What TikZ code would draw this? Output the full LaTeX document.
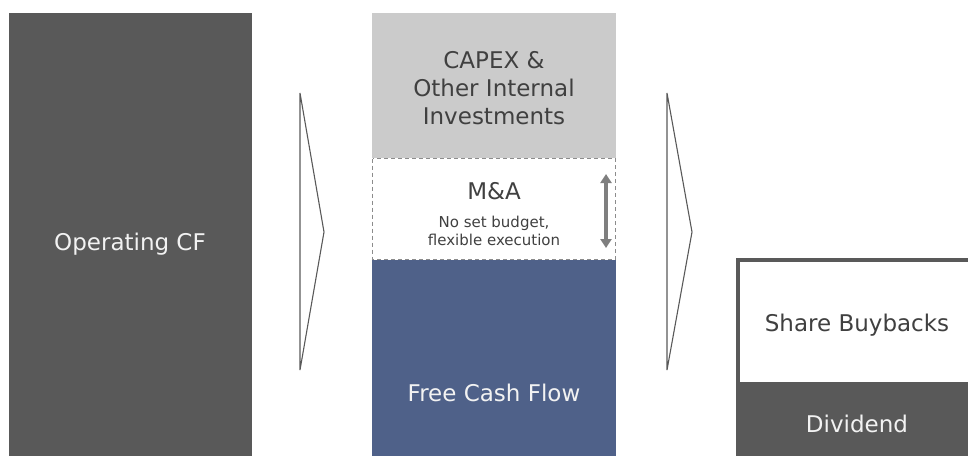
\documentclass[tikz,border=0pt]{standalone}
\usepackage{fontspec}
\setmainfont{DejaVu Sans}
\usetikzlibrary{arrows.meta}
\definecolor{darkgr}{HTML}{595959}
\definecolor{lightgr}{HTML}{CBCBCB}
\definecolor{bluebox}{HTML}{4F6189}
\definecolor{txtdark}{HTML}{404040}
\definecolor{txtlight}{HTML}{F2F2F2}
\definecolor{dashgr}{HTML}{8C8C8C}
\definecolor{arrgr}{HTML}{7F7F7F}
\tikzset{
  bigtext/.style={font=\fontsize{23}{28}\selectfont, align=center, inner sep=0pt},
  smalltext/.style={font=\fontsize{15}{18}\selectfont, align=center, inner sep=0pt},
  chev/.style={draw=darkgr, line width=1.1pt, line join=miter},
}
\begin{document}
\begin{tikzpicture}[x=1pt,y=-1pt]
\useasboundingbox (0,0) rectangle (968,456);
% left box
\fill[darkgr] (9,13) rectangle (252,456);
\node[bigtext, text=txtlight] (opcf) at (130,244) {Operating CF};
% chevron 1
\draw[chev] (300,93) -- (324,232) -- (300,370) -- cycle;
% middle column
\fill[lightgr] (372,13) rectangle (616,158);
\node[bigtext, text=txtdark] (capex) at (494,88) {CAPEX \&\\Other Internal\\Investments};
\draw[dashgr, line width=1pt, dash pattern=on 4pt off 3pt] (372.5,158.5) rectangle (615.5,259);
\node[bigtext, text=txtdark] (ma) at (494,191) {M\&A};
\node[smalltext, text=txtdark] (mab) at (494,231) {No set budget,\\flexible execution};
\coordinate (arrT) at (606,174);
\coordinate (arrB) at (606,248);
\draw[arrgr, line width=3.2pt, {Triangle[length=9pt,width=11pt]}-{Triangle[length=9pt,width=11pt]}] (arrT) -- (arrB);
\fill[bluebox] (372,260) rectangle (616,456);
\node[bigtext, text=txtlight] (fcf) at (494,393) {Free Cash Flow};
% chevron 2
\draw[chev] (667,93) -- (692,232) -- (667,370) -- cycle;
% right box
\fill[darkgr] (736,258) rectangle (968,456);
\fill[white] (740,262) rectangle (968,382);
\node[bigtext, text=txtdark] (sb) at (857,325) {Share Buybacks};
\node[bigtext, text=txtlight] (div) at (857,424) {Dividend};
\end{tikzpicture}
\end{document}
